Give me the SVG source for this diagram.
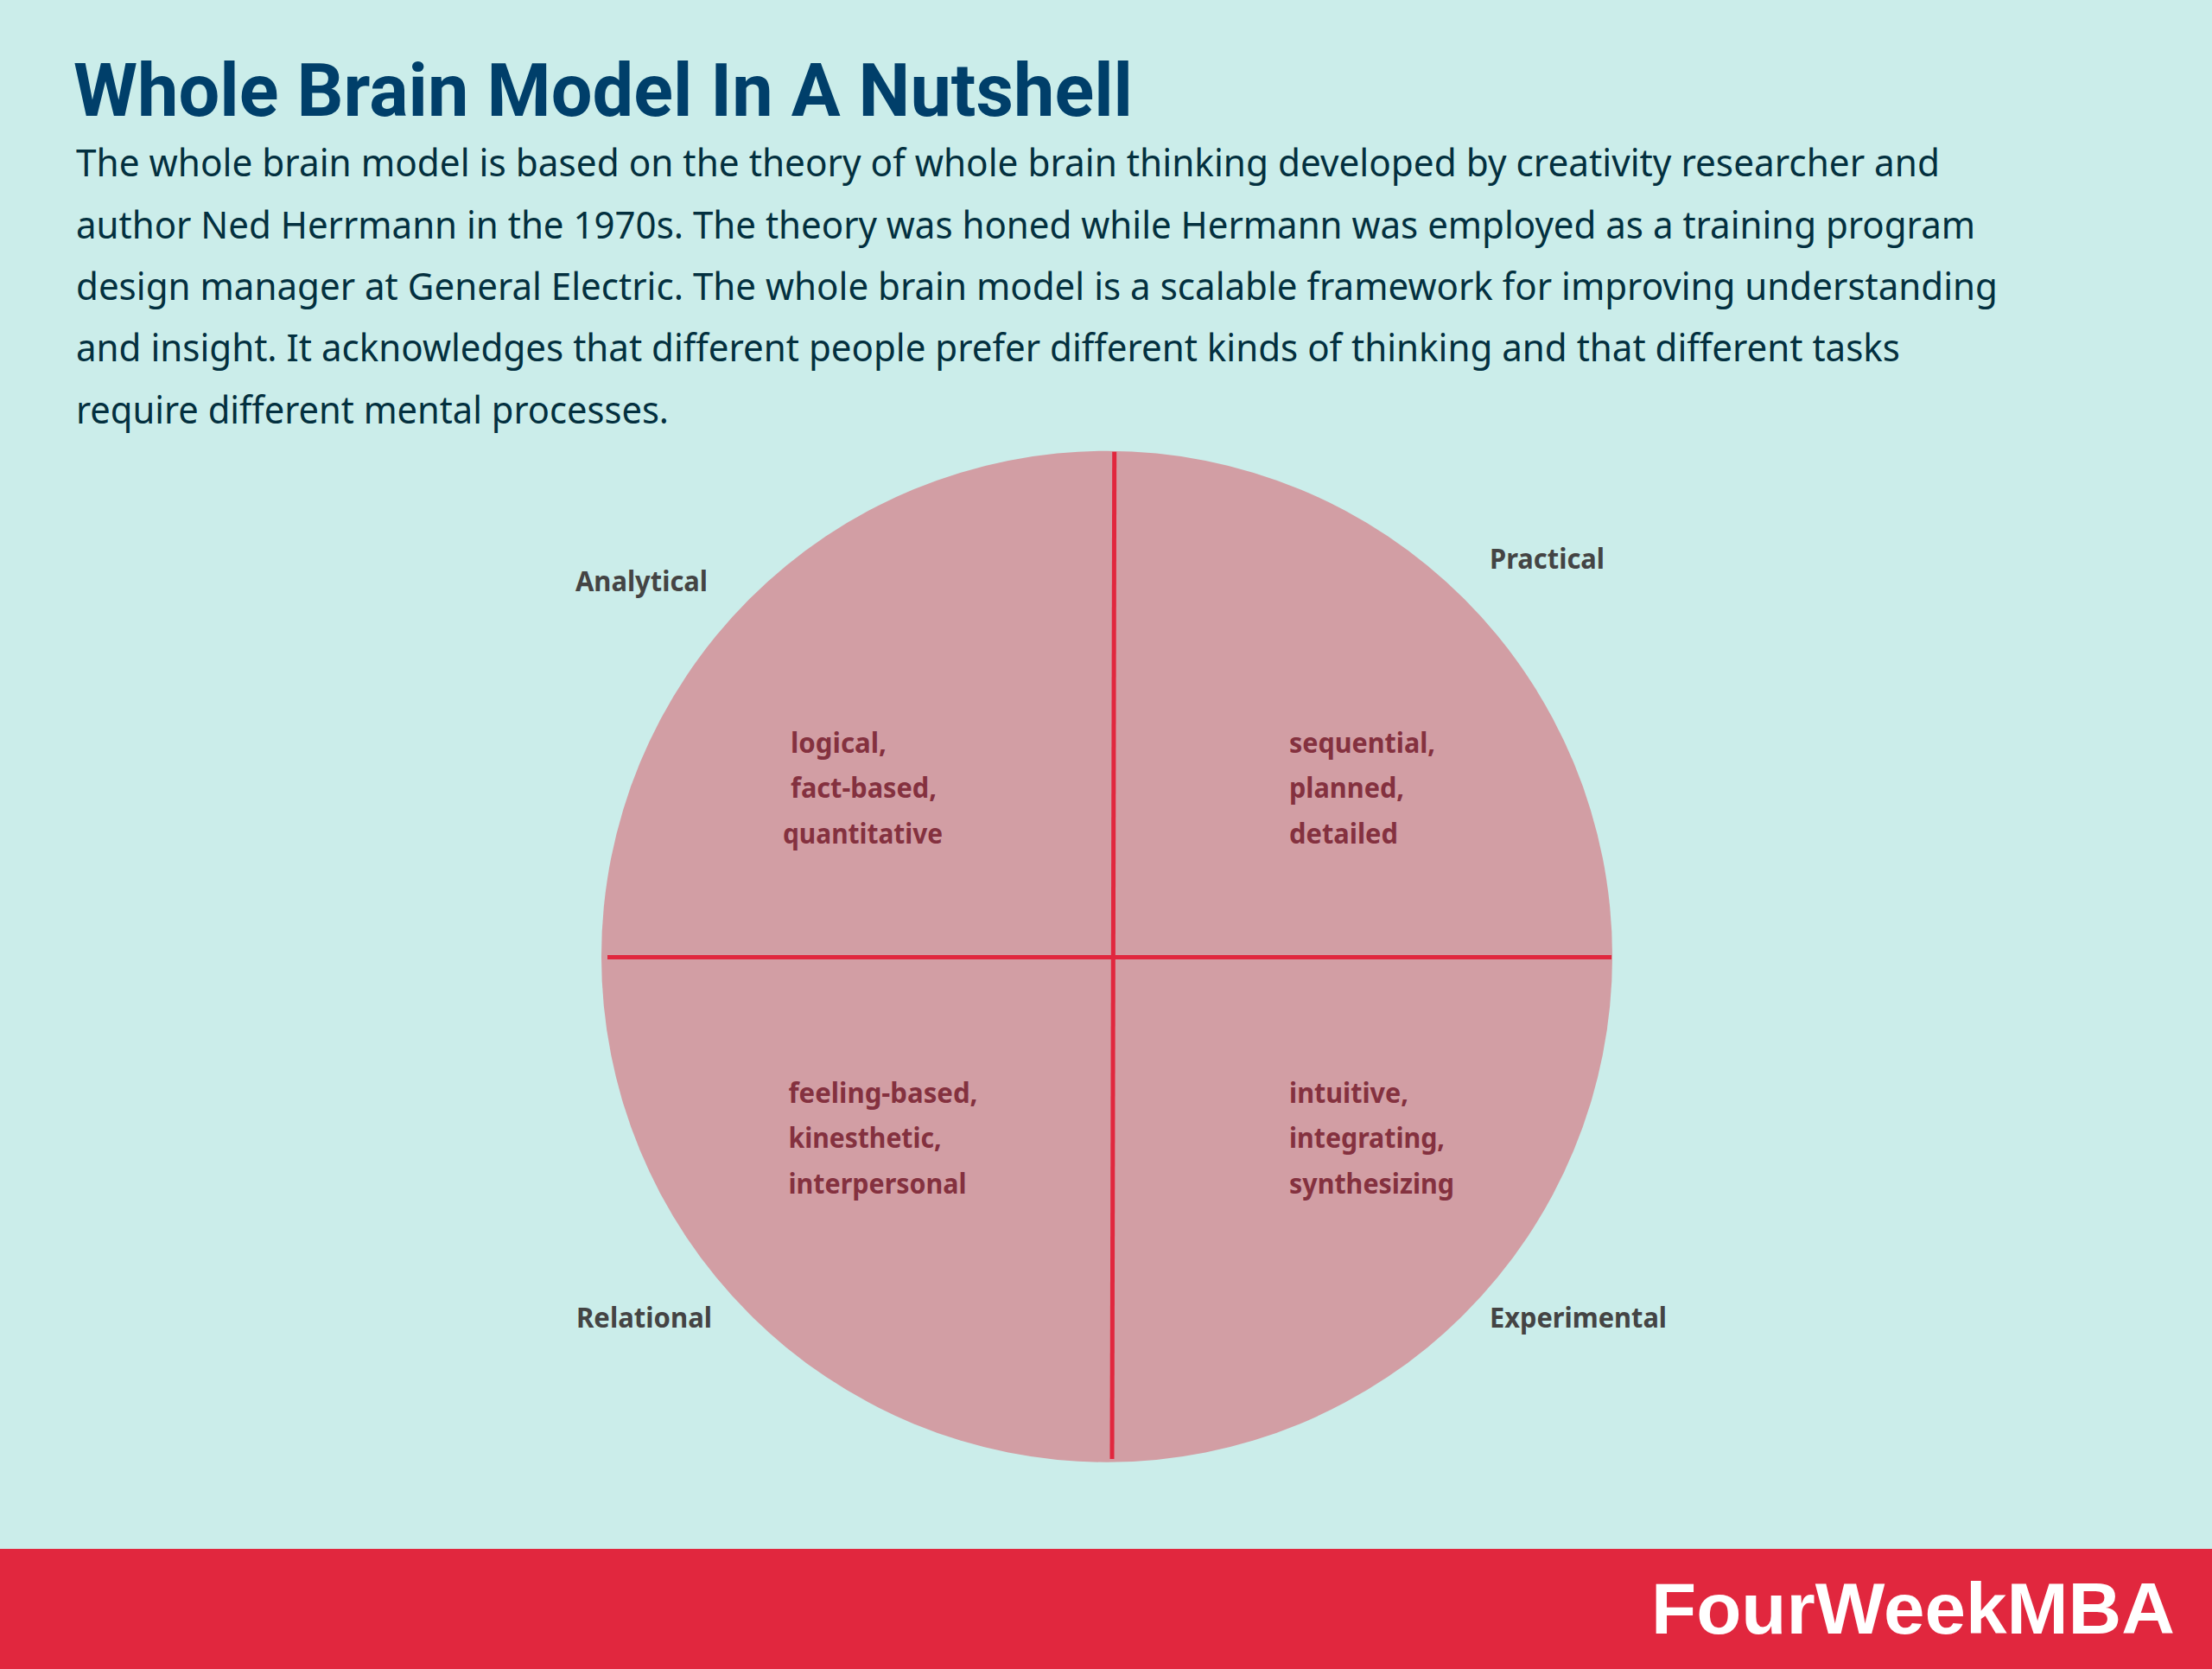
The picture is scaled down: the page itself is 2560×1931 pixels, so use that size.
<svg xmlns="http://www.w3.org/2000/svg" width="2560" height="1931" viewBox="0 0 2560 1931">
<style>
.body{font-family:"Noto Sans","Open Sans",sans-serif;font-size:43px;fill:#03303f}
.title{font-family:Roboto,"Noto Sans",sans-serif;font-weight:700;font-size:86px;fill:#003f6a}
.lab{font-family:"Noto Sans","Open Sans",sans-serif;font-weight:700;font-size:32px;fill:#444444}
.in{font-family:"Noto Sans","Open Sans",sans-serif;font-weight:700;font-size:32px;fill:#84313f}
.brand{font-family:"Liberation Sans",Arial,sans-serif;font-weight:700;font-size:84px;fill:#ffffff}
.ax{stroke:#e1273e;stroke-width:5;fill:none}
</style>
<rect width="2560" height="1931" fill="#cbedea"/>
<text class="title" x="85" y="134" textLength="1226" lengthAdjust="spacingAndGlyphs">Whole Brain Model In A Nutshell</text>
<g id="description">
<text class="body" x="88" y="204" textLength="2157" lengthAdjust="spacingAndGlyphs">The whole brain model is based on the theory of whole brain thinking developed by creativity researcher and</text>
<text class="body" x="88" y="276" textLength="2198" lengthAdjust="spacingAndGlyphs">author Ned Herrmann in the 1970s. The theory was honed while Hermann was employed as a training program</text>
<text class="body" x="88" y="347" textLength="2224" lengthAdjust="spacingAndGlyphs">design manager at General Electric. The whole brain model is a scalable framework for improving understanding</text>
<text class="body" x="88" y="418" textLength="2111" lengthAdjust="spacingAndGlyphs">and insight. It acknowledges that different people prefer different kinds of thinking and that different tasks</text>
<text class="body" x="88" y="490" textLength="686" lengthAdjust="spacingAndGlyphs">require different mental processes.</text>
</g>
<g id="circle"><circle cx="1281" cy="1106.7" r="585" fill="#d29ea4"/></g>
<g id="connectors">
<line class="ax" x1="703" y1="1107.5" x2="1865" y2="1107.5"/>
<line class="ax" x1="1289.7" y1="522.7" x2="1287" y2="1688"/>
</g>
<g id="analytical"><text class="lab" x="666" y="684" textLength="153" lengthAdjust="spacingAndGlyphs">Analytical</text>
<text class="in" x="915" y="871" textLength="111" lengthAdjust="spacingAndGlyphs">logical,</text>
<text class="in" x="915" y="923" textLength="169" lengthAdjust="spacingAndGlyphs">fact-based,</text>
<text class="in" x="906" y="976" textLength="185" lengthAdjust="spacingAndGlyphs">quantitative</text></g>
<g id="practical"><text class="lab" x="1724" y="658" textLength="133" lengthAdjust="spacingAndGlyphs">Practical</text>
<text class="in" x="1492" y="871" textLength="169" lengthAdjust="spacingAndGlyphs">sequential,</text>
<text class="in" x="1492" y="923" textLength="133" lengthAdjust="spacingAndGlyphs">planned,</text>
<text class="in" x="1492" y="976" textLength="126" lengthAdjust="spacingAndGlyphs">detailed</text></g>
<g id="relational"><text class="lab" x="667" y="1536" textLength="157" lengthAdjust="spacingAndGlyphs">Relational</text>
<text class="in" x="912.5" y="1276" textLength="219" lengthAdjust="spacingAndGlyphs">feeling-based,</text>
<text class="in" x="912.5" y="1328" textLength="177" lengthAdjust="spacingAndGlyphs">kinesthetic,</text>
<text class="in" x="912.5" y="1381" textLength="206" lengthAdjust="spacingAndGlyphs">interpersonal</text></g>
<g id="experimental"><text class="lab" x="1724" y="1536" textLength="205" lengthAdjust="spacingAndGlyphs">Experimental</text>
<text class="in" x="1492" y="1276" textLength="138" lengthAdjust="spacingAndGlyphs">intuitive,</text>
<text class="in" x="1492" y="1328" textLength="180" lengthAdjust="spacingAndGlyphs">integrating,</text>
<text class="in" x="1492" y="1381" textLength="191" lengthAdjust="spacingAndGlyphs">synthesizing</text></g>
<g id="footer"><rect x="0" y="1792" width="2560" height="139" fill="#e1273e"/>
<text class="brand" x="1911" y="1890" textLength="606" lengthAdjust="spacingAndGlyphs">FourWeekMBA</text></g>
</svg>
